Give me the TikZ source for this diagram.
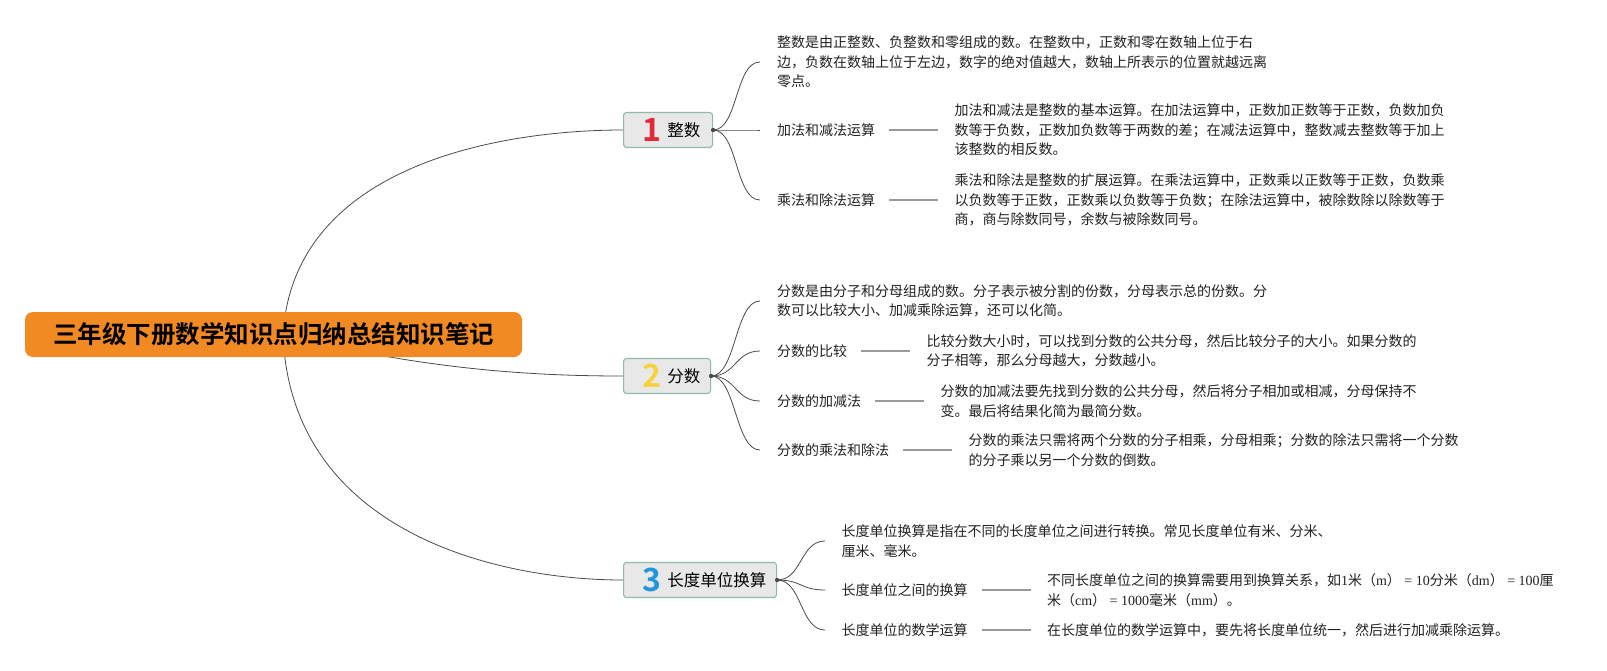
\documentclass[tikz,border=0pt]{standalone}
\usepackage{fontspec}
\setmainfont{Noto Sans CJK SC}[BoldFont={Noto Sans CJK SC Bold}]
\newfontfamily\latser{Liberation Serif}
\usetikzlibrary{positioning,backgrounds}
\definecolor{rootorange}{HTML}{F28A24}
\definecolor{boxfill}{HTML}{E8E8E8}
\definecolor{boxdraw}{HTML}{8DBBA3}
\definecolor{linecol}{HTML}{4A4A4A}
\definecolor{leaflinecol}{HTML}{9A9A9A}
\definecolor{txt}{HTML}{222222}
\definecolor{numred}{HTML}{E3283B}
\definecolor{numyellow}{HTML}{F6D33C}
\definecolor{numblue}{HTML}{2196D8}
\newcommand{\numfnt}{\fontsize{32}{32}\selectfont\bfseries}
\newcommand{\topiccontent}[4]{\makebox[#1][l]{\hspace{19pt}\raisebox{-11pt}[0pt][0pt]{\numfnt\color{#2}#3}\hspace{6pt}\raisebox{-6pt}[0pt][0pt]{#4}}}
\begin{document}
\begin{tikzpicture}[x=1pt,y=-1pt,
  rootbox/.style={fill=rootorange, rounded corners=8pt, minimum width=497pt, minimum height=45pt, inner sep=0pt, font=\fontsize{24.5}{28}\selectfont\bfseries},
  topicbox/.style={fill=boxfill, draw=boxdraw, line width=1.1pt, rounded corners=3pt, minimum height=35pt, inner sep=0pt, anchor=west, font=\fontsize{16.5}{18}\selectfont},
  leaf/.style={font=\fontsize{14}{19.5}\selectfont, align=left, inner sep=0pt, anchor=west, text=txt},
  curve/.style={draw=linecol, line width=0.8pt},
  rootcurve/.style={draw=linecol, line width=0.8pt},
  leafline/.style={draw=leaflinecol, line width=1.1pt},
  jdot/.style={fill=linecol}
]
\useasboundingbox (0,0) rectangle (1607,670);

% root
\node[rootbox] (root) at (273.5,334.5) {三年级下册数学知识点归纳总结知识笔记};
\coordinate (rc) at (283,335);

% topics
\node[topicbox, minimum width=89pt] (b1) at (623,130) {\topiccontent{89pt}{numred}{1}{整数}};
\node[topicbox, minimum width=87pt] (b2) at (623,376) {\topiccontent{87pt}{numyellow}{2}{分数}};
\node[topicbox, minimum width=153pt] (b3) at (623,580) {\topiccontent{153pt}{numblue}{3}{长度单位换算}};

\coordinate (j1) at (b1.east);
\coordinate (j2) at (b2.east);
\coordinate (j3) at (b3.east);

\begin{scope}[on background layer]
\fill[white] (0,0) rectangle (1607,670);
\draw[rootcurve] (rc) .. controls +(10,-170) and +(-123,0) .. (b1.west);
\draw[rootcurve] (rc) .. controls +(137,33) and +(-100,0) .. (b2.west);
\draw[rootcurve] (rc) .. controls +(8,195) and +(-130,0) .. (b3.west);
\end{scope}

% branch 1
\node[leaf] (d10) at (777,62) {整数是由正整数、负整数和零组成的数。在整数中，正数和零在数轴上位于右\\边，负数在数轴上位于左边，数字的绝对值越大，数轴上所表示的位置就越远离\\零点。};
\node[leaf] (l11) at (777,130) {加法和减法运算};
\node[leaf, right=79pt of l11] (d11) {加法和减法是整数的基本运算。在加法运算中，正数加正数等于正数，负数加负\\数等于负数，正数加负数等于两数的差；在减法运算中，整数减去整数等于加上\\该整数的相反数。};
\node[leaf] (l12) at (777,200) {乘法和除法运算};
\node[leaf, right=79pt of l12] (d12) {乘法和除法是整数的扩展运算。在乘法运算中，正数乘以正数等于正数，负数乘\\以负数等于正数，正数乘以负数等于负数；在除法运算中，被除数除以除数等于\\商，商与除数同号，余数与被除数同号。};

\draw[curve] (j1) .. controls +(25,0) and +(-25,0) .. ([xshift=-17pt]d10.west);
\draw[curve] (j1) .. controls +(25,0) and +(-25,0) .. ([xshift=-17pt]l11.west);
\draw[curve] (j1) .. controls +(25,0) and +(-25,0) .. ([xshift=-17pt]l12.west);
\draw[leafline] ([xshift=14pt]l11.east) -- ([xshift=-16pt]d11.west);
\draw[leafline] ([xshift=14pt]l12.east) -- ([xshift=-16pt]d12.west);

% branch 2
\node[leaf] (d20) at (777,301) {分数是由分子和分母组成的数。分子表示被分割的份数，分母表示总的份数。分\\数可以比较大小、加减乘除运算，还可以化简。};
\node[leaf] (l21) at (777,351) {分数的比较};
\node[leaf, right=79pt of l21] (d21) {比较分数大小时，可以找到分数的公共分母，然后比较分子的大小。如果分数的\\分子相等，那么分母越大，分数越小。};
\node[leaf] (l22) at (777,401) {分数的加减法};
\node[leaf, right=79pt of l22] (d22) {分数的加减法要先找到分数的公共分母，然后将分子相加或相减，分母保持不\\变。最后将结果化简为最简分数。};
\node[leaf] (l23) at (777,450) {分数的乘法和除法};
\node[leaf, right=79pt of l23] (d23) {分数的乘法只需将两个分数的分子相乘，分母相乘；分数的除法只需将一个分数\\的分子乘以另一个分数的倒数。};

\draw[curve] (j2) .. controls +(25,0) and +(-25,0) .. ([xshift=-17pt]d20.west);
\draw[curve] (j2) .. controls +(25,0) and +(-25,0) .. ([xshift=-17pt]l21.west);
\draw[curve] (j2) .. controls +(25,0) and +(-25,0) .. ([xshift=-17pt]l22.west);
\draw[curve] (j2) .. controls +(25,0) and +(-25,0) .. ([xshift=-17pt]l23.west);
\draw[leafline] ([xshift=14pt]l21.east) -- ([xshift=-16pt]d21.west);
\draw[leafline] ([xshift=14pt]l22.east) -- ([xshift=-16pt]d22.west);
\draw[leafline] ([xshift=14pt]l23.east) -- ([xshift=-16pt]d23.west);

% branch 3
\node[leaf] (d30) at (841.5,541) {长度单位换算是指在不同的长度单位之间进行转换。常见长度单位有米、分米、\\厘米、毫米。};
\node[leaf] (l31) at (841.5,590) {长度单位之间的换算};
\node[leaf, right=79pt of l31] (d31) {不同长度单位之间的换算需要用到换算关系，如{\latser 1}米（{\latser m}）{\latser{} = 10}分米（{\latser dm}）{\latser{} = 100}厘\\米（{\latser cm}）{\latser{} = 1000}毫米（{\latser mm}）。};
\node[leaf] (l32) at (841.5,630) {长度单位的数学运算};
\node[leaf, right=79pt of l32] (d32) {在长度单位的数学运算中，要先将长度单位统一，然后进行加减乘除运算。};

\draw[curve] (j3) .. controls +(25,0) and +(-25,0) .. ([xshift=-16.5pt]d30.west);
\draw[curve] (j3) .. controls +(25,0) and +(-25,0) .. ([xshift=-16.5pt]l31.west);
\draw[curve] (j3) .. controls +(25,0) and +(-25,0) .. ([xshift=-16.5pt]l32.west);
\draw[leafline] ([xshift=14pt]l31.east) -- ([xshift=-16pt]d31.west);
\draw[leafline] ([xshift=14pt]l32.east) -- ([xshift=-16pt]d32.west);

% junction dots
\fill[jdot] (j1) circle[radius=2.2pt];
\fill[jdot] (j2) circle[radius=2.2pt];
\fill[jdot] (j3) circle[radius=2.2pt];
\end{tikzpicture}
\end{document}
